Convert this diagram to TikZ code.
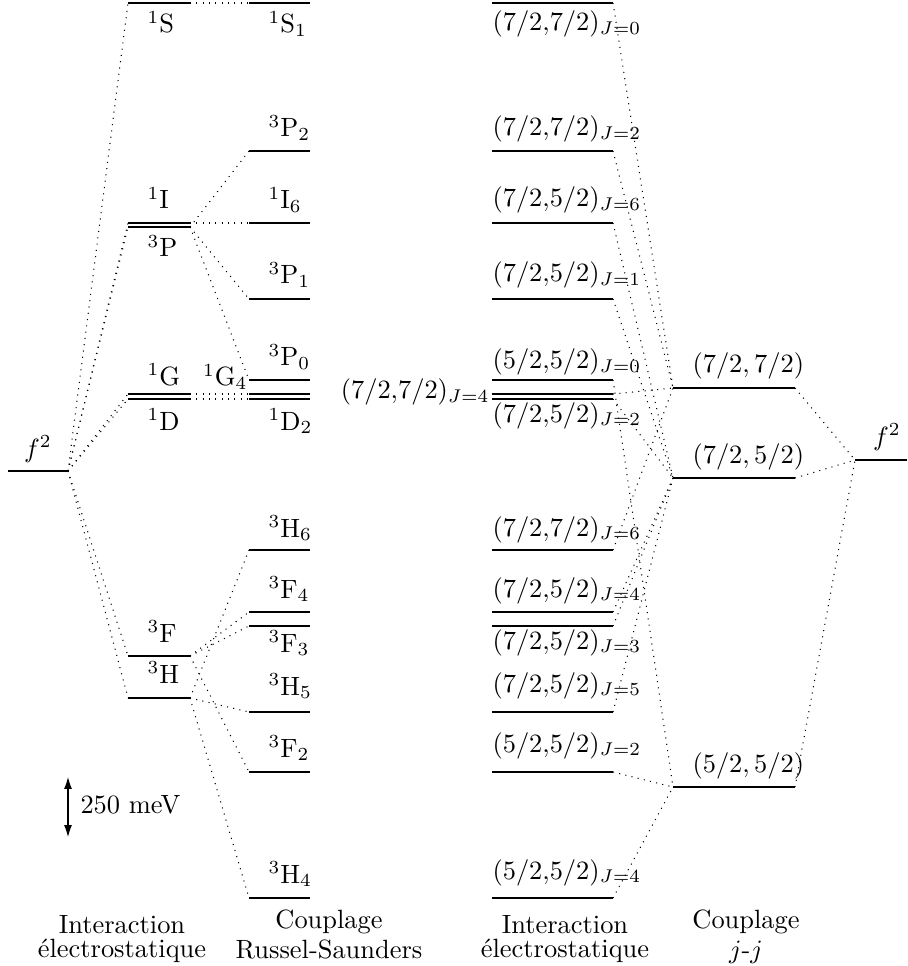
\documentclass[tikz,border=0pt]{standalone}
\usetikzlibrary{arrows.meta}
\newcommand\mklevel[4]{%
  \coordinate (#1-l) at (#2,#4);
  \coordinate (#1-r) at (#3,#4);
  \draw[lvlline] (#1-l) -- (#1-r);}
\begin{document}
\begin{tikzpicture}[x=0.0133cm,y=-0.0133cm,
  lvlline/.style={line width=0.45pt},
  conn/.style={dotted, line width=0.4pt},
  lab/.style={inner sep=0pt, anchor=base west},
  labr/.style={inner sep=0pt, anchor=base east},
  labc/.style={inner sep=0pt, anchor=base},
]
\useasboundingbox (0,0) rectangle (907,966);

% ---- left f^2
\mklevel{fa}{8}{68}{471}
\node[labc] (tfa) at (38,457) {$f^2$};

% ---- electrostatic (LS terms)
\mklevel{S}{128}{190}{3}
\mklevel{I}{128}{190}{223}
\mklevel{P}{128}{190}{227}
\mklevel{G}{128}{190}{394}
\mklevel{D}{128}{190}{399}
\mklevel{F}{128}{190}{656}
\mklevel{H}{128}{190}{698}
\node[lab] (tS) at (147,33) {$^1$S};
\node[lab] (tI) at (147,209) {$^1$I};
\node[lab] (tP) at (147,257) {$^3$P};
\node[lab] (tG) at (147,385) {$^1$G};
\node[lab] (tD) at (147,430) {$^1$D};
\node[lab] (tF) at (147,642) {$^3$F};
\node[lab] (tH) at (147,683) {$^3$H};

% ---- Russel-Saunders levels
\mklevel{S1}{249}{310}{3}
\mklevel{P2}{249}{310}{151}
\mklevel{I6}{249}{310}{223}
\mklevel{P1}{249}{310}{299}
\mklevel{P0}{249}{310}{380}
\mklevel{G4}{249}{310}{394}
\mklevel{D2}{249}{310}{399}
\mklevel{H6}{249}{310}{550}
\mklevel{F4}{249}{310}{612}
\mklevel{F3}{249}{310}{626}
\mklevel{H5}{249}{310}{712}
\mklevel{F2}{249}{310}{772}
\mklevel{H4}{249}{310}{898}
\node[lab] (tS1) at (268,33) {$^1$S$_1$};
\node[lab] (tP2) at (268,137) {$^3$P$_2$};
\node[lab] (tI6) at (268,209) {$^1$I$_6$};
\node[lab] (tP1) at (268,284) {$^3$P$_1$};
\node[lab] (tP0) at (268,366) {$^3$P$_0$};
\node[labr] (tG4) at (248,386) {$^1$G$_4$};
\node[lab] (tD2) at (268,430) {$^1$D$_2$};
\node[lab] (tH6) at (268,537) {$^3$H$_6$};
\node[lab] (tF4) at (268,598) {$^3$F$_4$};
\node[lab] (tF3) at (268,652) {$^3$F$_3$};
\node[lab] (tH5) at (268,695) {$^3$H$_5$};
\node[lab] (tF2) at (268,757) {$^3$F$_2$};
\node[lab] (tH4) at (268,883) {$^3$H$_4$};

% ---- j-j levels (electrostatic)
\mklevel{ja}{492}{613}{3}
\mklevel{jb}{492}{613}{151}
\mklevel{jc}{492}{613}{223}
\mklevel{jd}{492}{613}{299}
\mklevel{je}{492}{613}{380}
\mklevel{jf}{492}{613}{394}
\mklevel{jg}{492}{613}{399}
\mklevel{jh}{492}{613}{550}
\mklevel{ji}{492}{613}{612}
\mklevel{jj}{492}{613}{626}
\mklevel{jk}{492}{613}{712}
\mklevel{jl}{492}{613}{772}
\mklevel{jm}{492}{613}{898}
\node[lab] (tja) at (492,31) {$(7/2{,}7/2)_{J=0}$};
\node[lab] (tjb) at (492,136) {$(7/2{,}7/2)_{J=2}$};
\node[lab] (tjc) at (492,207) {$(7/2{,}5/2)_{J=6}$};
\node[lab] (tjd) at (492,282) {$(7/2{,}5/2)_{J=1}$};
\node[lab] (tje) at (492,369) {$(5/2{,}5/2)_{J=0}$};
\node[labr] (tjf) at (490,399) {$(7/2{,}7/2)_{J=4}$};
\node[lab] (tjg) at (492,422) {$(7/2{,}5/2)_{J=2}$};
\node[lab] (tjh) at (492,536) {$(7/2{,}7/2)_{J=6}$};
\node[lab] (tji) at (492,597) {$(7/2{,}5/2)_{J=4}$};
\node[lab] (tjj) at (492,649) {$(7/2{,}5/2)_{J=3}$};
\node[lab] (tjk) at (492,692) {$(7/2{,}5/2)_{J=5}$};
\node[lab] (tjl) at (492,752) {$(5/2{,}5/2)_{J=2}$};
\node[lab] (tjm) at (492,879) {$(5/2{,}5/2)_{J=4}$};

% ---- j-j configurations
\mklevel{c77}{673}{795}{388}
\mklevel{c75}{673}{795}{478}
\mklevel{c55}{673}{795}{787}
\node[lab] (tc77) at (692,373) {$(7/2, 7/2)$};
\node[lab] (tc75) at (692,463) {$(7/2, 5/2)$};
\node[lab] (tc55) at (692,772) {$(5/2, 5/2)$};

% ---- right f^2
\mklevel{fb}{855}{907}{460}
\node[labc] (tfb) at (887,445) {$f^2$};

% ---- connectors: f^2 -> LS terms
\foreach \t in {S,I,P,G,D,F,H}
  \draw[conn] (fa-r) -- (\t-l);

% ---- LS terms -> RS levels
\draw[conn] (S-r) -- (S1-l);
\draw[conn] (I-r) -- (I6-l);
\draw[conn] (P-r) -- (P2-l);
\draw[conn] (P-r) -- (P1-l);
\draw[conn] (P-r) -- (P0-l);
\draw[conn] (G-r) -- (G4-l);
\draw[conn] (D-r) -- (D2-l);
\draw[conn] (F-r) -- (F4-l);
\draw[conn] (F-r) -- (F3-l);
\draw[conn] (F-r) -- (F2-l);
\draw[conn] (H-r) -- (H6-l);
\draw[conn] (H-r) -- (H5-l);
\draw[conn] (H-r) -- (H4-l);

% ---- j-j levels -> configurations
\foreach \t in {ja,jb,jf,jh}
  \draw[conn] (\t-r) -- (c77-l);
\foreach \t in {jc,jd,jg,ji,jj,jk}
  \draw[conn] (\t-r) -- (c75-l);
\foreach \t in {je,jl,jm}
  \draw[conn] (\t-r) -- (c55-l);

% ---- configurations -> f^2
\foreach \t in {c77,c75,c55}
  \draw[conn] (\t-r) -- (fb-l);

% ---- scale bar
\coordinate (sbt) at (68,777);
\coordinate (sbb) at (68,837);
\draw[{Latex[length=4.5pt,width=3pt]}-{Latex[length=4.5pt,width=3pt]}] (sbt) -- (sbb);
\node[lab] (tsb) at (80,813) {250 meV};

% ---- captions
\node[labc] (cap1a) at (122,933) {Interaction};
\node[labc] (cap1b) at (122,957) {électrostatique};
\node[labc] (cap2a) at (329,928) {Couplage};
\node[labc] (cap2b) at (329,958) {Russel-Saunders};
\node[labc] (cap3a) at (565,933) {Interaction};
\node[labc] (cap3b) at (565,957) {électrostatique};
\node[labc] (cap4a) at (746,928) {Couplage};
\node[labc] (cap4b) at (746,958) {$j$-$j$};
\end{tikzpicture}
\end{document}
